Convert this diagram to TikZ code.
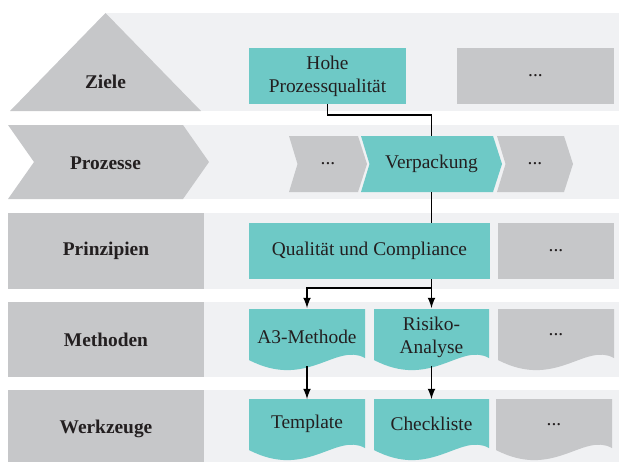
\documentclass[tikz,border=0pt]{standalone}
\usepackage{fontspec}
\setmainfont{Liberation Serif}
\usetikzlibrary{arrows}

\definecolor{tealc}{RGB}{110,201,198}
\definecolor{greyc}{RGB}{198,199,201}
\definecolor{bandc}{RGB}{240,241,243}
\definecolor{ink}{RGB}{35,31,32}

% chevron of the process row: left x, right x, colour
\newcommand{\chevfill}[3]{\fill[#3] (#1,136) -- (#2,136) -- ({#2+9},164) -- (#2,192) -- (#1,192) -- ({#1+8.5},164) -- cycle;}
% document shape with wavy bottom: left x, right x, top y, bottom y, colour
\newcommand{\docfill}[5]{\fill[#5] (#1,#3) -- (#2,#3) -- (#2,{#4-2})
  .. controls ({#1+0.75*(#2-#1)},{#4-18}) and ({#1+0.5*(#2-#1)},{#4+30}) .. (#1,#4) -- cycle;}

\begin{document}
\begin{tikzpicture}[x=0.5pt, y=-0.5pt, align=center, line width=0.75pt,
  font=\fontsize{9.7}{11.6}\selectfont, text=ink,
  sz/.style 2 args={minimum width=#1*0.5pt, minimum height=#2*0.5pt, inner sep=0pt, outer sep=0pt},
  head/.style={font=\fontsize{9.7}{11.6}\selectfont\bfseries},
  tealbox/.style={fill=tealc}, greybox/.style={fill=greyc}]
\useasboundingbox (0,0) rectangle (619,462);

% bands
\fill[bandc] (105,13) rectangle (619,111);
\fill[bandc] (105,125) rectangle (619,199);
\fill[bandc] (105,213) rectangle (619,289);
\fill[bandc] (105,302) rectangle (619,377);
\fill[bandc] (105,390) rectangle (619,462);

% left column
\fill[greyc] (10,111) -- (105.5,13) -- (201,111) -- cycle;
\fill[greyc] (8,125) -- (183,125) -- (209,162) -- (183,199) -- (8,199) -- (34,162) -- cycle;
\fill[greyc] (8,213) rectangle (204,289);
\fill[greyc] (8,302) rectangle (204,377);
\fill[greyc] (8,390) rectangle (204,462);
\node[head] (ziele) at (105.5,82) {Ziele};
\node[head] (prozesse) at (105.5,163) {Prozesse};
\node[head] (prinzipien) at (106,251) {Prinzipien};
\node[head] (methoden) at (106,340) {Methoden};
\node[head] (werkzeuge) at (106,429) {Werkzeuge};

% Ziele
\node[tealbox, sz={157}{56}] (hohe) at (327.5,76) {Hohe\\Prozessqualität};
\node[greybox, sz={157}{56}] (ziel2) at (535.5,76) {...};

% Prozesse
\chevfill{289}{358}{greyc}
\chevfill{361}{493}{tealc}
\chevfill{497}{564}{greyc}
\node (proc1) at (328,164) {...};
\node[sz={123}{56}] (verp) at (431.5,164) {Verpackung};
\node (proc3) at (535,164) {...};

% Prinzipien
\node[tealbox, sz={241}{56}] (qual) at (369.5,251) {Qualität und Compliance};
\node[greybox, sz={116}{56}] (prinz2) at (556,251) {...};

% Methoden
\docfill{249}{365}{309}{360}{tealc}
\docfill{374}{489}{309}{360}{tealc}
\docfill{498}{614}{309}{360}{greyc}
\node[sz={116}{58}] (a3) at (307,337) {A3-Methode};
\node[sz={115}{58}] (risk) at (431.5,337) {Risiko-\\Analyse};
\node (meth3) at (556,335) {...};

% Werkzeuge
\docfill{249}{365}{399}{450}{tealc}
\docfill{374}{489}{399}{450}{tealc}
\docfill{496}{612}{399}{450}{greyc}
\node[sz={116}{50}] (tmpl) at (307,424) {Template};
\node[sz={115}{50}] (check) at (431.5,424) {Checkliste};
\node (werk3) at (554,425) {...};

% connectors
\coordinate (split) at (431.5,288);
\draw (hohe.south) -- ++(0,11) -| (verp.north);
\draw (verp.south) -- (verp.south |- qual.north);
\draw (qual.south -| split) -- (split);
\draw[-latex] (split) -- (risk.north);
\draw[-latex] (split) -| (a3.north);
\draw[-latex] (a3.south) -- (tmpl.north);
\draw[-latex] (risk.south) -- (check.north);
\end{tikzpicture}
\end{document}
